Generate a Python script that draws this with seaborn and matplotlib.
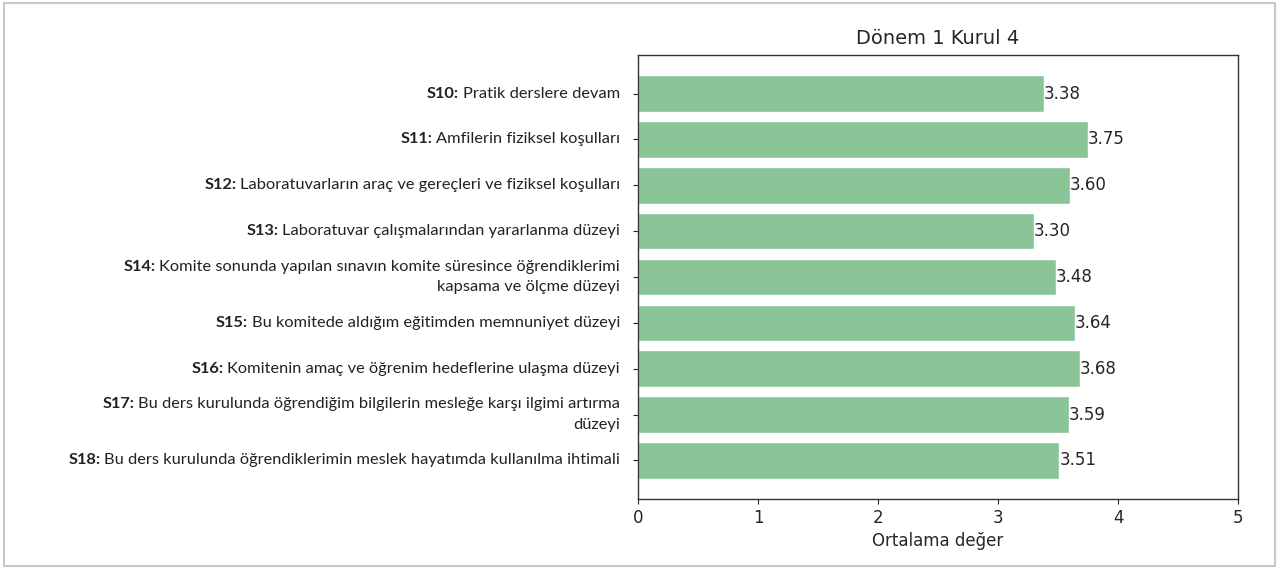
import matplotlib
matplotlib.use("Agg")
import matplotlib.pyplot as plt
import seaborn as sns
from matplotlib.patches import Rectangle

# data
codes = ["S10:", "S11:", "S12:", "S13:", "S14:", "S15:", "S16:", "S17:", "S18:"]
questions = [
    "Pratik derslere devam",
    "Amfilerin fiziksel koşulları",
    "Laboratuvarların araç ve gereçleri ve fiziksel koşulları",
    "Laboratuvar çalışmalarından yararlanma düzeyi",
    "Komite sonunda yapılan sınavın komite süresince öğrendiklerimi\nkapsama ve ölçme düzeyi",
    "Bu komitede aldığım eğitimden memnuniyet düzeyi",
    "Komitenin amaç ve öğrenim hedeflerine ulaşma düzeyi",
    "Bu ders kurulunda öğrendiğim bilgilerin mesleğe karşı ilgimi artırma\ndüzeyi",
    "Bu ders kurulunda öğrendiklerimin meslek hayatımda kullanılma ihtimali",
]
values = [3.38, 3.75, 3.60, 3.30, 3.48, 3.64, 3.68, 3.59, 3.51]
x_ticks = [0, 1, 2, 3, 4, 5]

BAR_COLOR = "#8AC497"
LABEL_FONT = "Lato"

sns.set_style("ticks")
plt.rcParams["font.family"] = ["DejaVu Sans"]

fig = plt.figure(figsize=(12.8, 5.69), dpi=100)
ax = fig.add_axes([0.4984, 0.1230, 0.4688, 0.7803])

sns.barplot(x=values, y=codes, color=BAR_COLOR, saturation=1, width=0.8,
            orient="h", ax=ax)

# value labels at end of the bars
ax.bar_label(ax.containers[0], fmt="%.2f", padding=0, fontsize=12)

ax.set_xlim(0, 5)
ax.set_xticks(x_ticks)
ax.set_ylim(len(values) - 1 + 0.84, -0.84)
ax.tick_params(axis="x", labelsize=12)
ax.set_xlabel("Ortalama değer", fontsize=12)
ax.set_ylabel("")
ax.set_title("Dönem 1 Kurul 4", fontsize=14, pad=8)
for sp in ax.spines.values():
    sp.set_color("#333333")
    sp.set_linewidth(1.0)

# y labels: bold question code followed by regular text
ax.set_yticks(range(len(codes)))
ax.set_yticklabels([""] * len(codes))
for i, (c, q) in enumerate(zip(codes, questions)):
    reg = ax.annotate(q, xy=(0, i), xycoords=("axes fraction", "data"),
                      xytext=(-13, 0), textcoords="offset points",
                      ha="right", va="center", multialignment="right",
                      fontsize=11.75, family=LABEL_FONT, color="#222222",
                      linespacing=1.6)
    ax.annotate(c, xy=(0, 1), xycoords=reg, xytext=(-2.5, 0),
                textcoords="offset points", ha="right", va="top",
                fontsize=11.75, family=LABEL_FONT, fontweight="bold",
                color="#222222")

# screenshot frame
fig.patches.append(Rectangle((0.003, 0.006), 0.993, 0.988, transform=fig.transFigure,
                             fill=False, edgecolor="#c8c8c8", linewidth=1.5))

fig.savefig("out.png", dpi=100)
